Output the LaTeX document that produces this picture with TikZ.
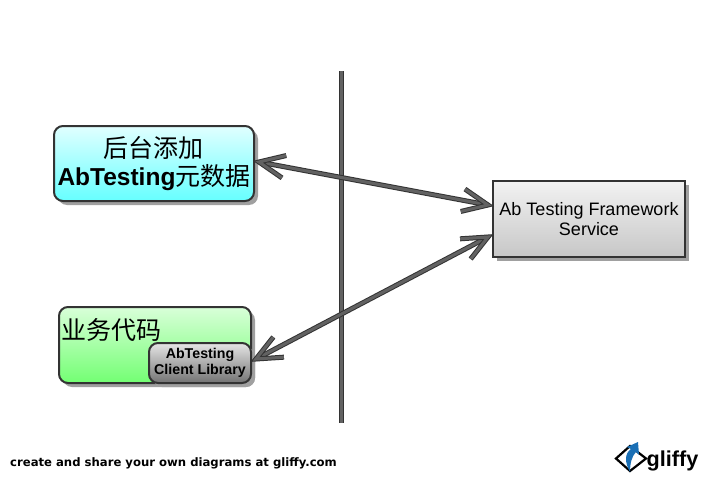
\documentclass[tikz,border=0pt]{standalone}
\usepackage{fontspec}
\setmainfont{Liberation Sans}
\newfontfamily\cjk{Noto Sans CJK SC}
\newfontfamily\dvs{DejaVu Sans}
\usetikzlibrary{calc,shadings,shadows}
\definecolor{edge}{HTML}{333333}
\definecolor{shade}{HTML}{A0A0A0}
\definecolor{conn}{HTML}{626262}
\definecolor{logoblue}{HTML}{1A6FB5}
\tikzset{
  x=1pt,y=-1pt,
  boxbase/.style={draw=edge,line width=2pt,inner sep=0pt,align=center,anchor=north west,text=black},
  roundbox/.style={boxbase,rounded corners=9pt,drop shadow={shadow xshift=4pt,shadow yshift=-4pt,fill=shade,opacity=1}},
  squarebox/.style={boxbase,drop shadow={shadow xshift=4pt,shadow yshift=-4pt,fill=shade,opacity=1}},
  connline/.style={draw=edge,line width=1pt,double=conn,double distance=3pt,line join=miter,line cap=butt},
}
\newcommand{\dblhead}[2]{%
  \draw[connline] ($(#1)!28pt!24:(#2)$) -- (#1) -- ($(#1)!28pt!-24:(#2)$);}
\begin{document}
\begin{tikzpicture}
\useasboundingbox (0,0) rectangle (705,479);
\fill[white] (0,0) rectangle (705,479);

\node[roundbox,minimum width=200pt,minimum height=75pt,top color=cyan!12,bottom color=cyan!60,text width=200pt] (admin) at (53,125)
 {\fontsize{24.5}{29}\selectfont{\cjk\fontsize{25}{29}\selectfont 后台添加}\\[4pt]\textbf{AbTesting}{\cjk\fontsize{25}{29}\selectfont 元数据}};

\node[roundbox,minimum width=192pt,minimum height=76pt,top color=green!15!white,bottom color=green!55!white] (biz) at (58,306) {};
\node[anchor=north west,inner sep=0pt,font=\fontsize{25}{28}\selectfont\cjk] (biztext) at (61,318) {业务代码};
\node[roundbox,minimum width=102pt,minimum height=40pt,top color=black!10,bottom color=black!55,font=\fontsize{14.2}{16}\selectfont\bfseries] (lib) at (148,342) {AbTesting\\Client Library};

\node[squarebox,minimum width=192pt,minimum height=76pt,top color=black!5,bottom color=black!22,font=\fontsize{18}{20.5}\selectfont] (svc) at (492,180) {Ab Testing Framework\\Service};

\coordinate (wallT) at (341,71);
\coordinate (wallB) at (341,423);
\draw[draw=edge,line width=1pt,double=conn,double distance=3pt] (wallT) -- (wallB);

\coordinate (p1) at (259,162);
\coordinate (p2) at (488,205);
\coordinate (p3) at (488,237);
\coordinate (p4) at (256,359);
\draw[connline] (p1) -- (p2);
\dblhead{p1}{p2}
\dblhead{p2}{p1}
\draw[connline] (p3) -- (p4);
\dblhead{p3}{p4}
\dblhead{p4}{p3}

\node[anchor=west,inner sep=0pt,font=\fontsize{11.65}{13}\selectfont\dvs\bfseries] (credit) at (10,463) {create and share your own diagrams at gliffy.com};

\coordinate (dL) at (616,458.5);
\coordinate (dT) at (630,446);
\coordinate (dR) at (646,458.5);
\coordinate (dB) at (630,471);
\draw[line width=2.2pt,black,fill=white,line join=miter] (dL) -- (dT) -- (dR) -- (dB) -- cycle;
\fill[logoblue] (630,472) .. controls (625,463) and (624,454) .. (631,449) -- (627,447) -- (638,442) -- (639,455) -- (636,452) .. controls (632,456) and (630,463) .. (630,472) -- cycle;
\node[anchor=west,inner sep=0pt,font=\fontsize{21.6}{26}\selectfont\bfseries,text=black] (logo) at (646.5,461) {gliffy};
\end{tikzpicture}
\end{document}
